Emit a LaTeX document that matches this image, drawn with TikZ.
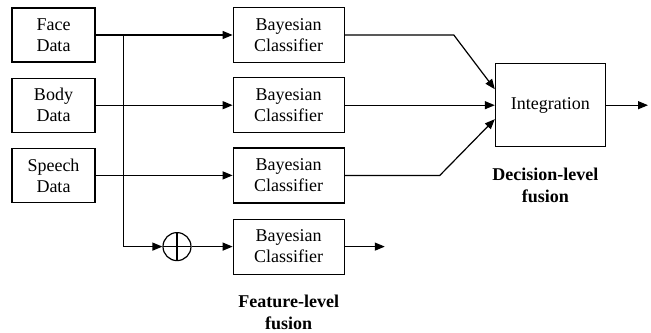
\documentclass[tikz,border=0pt]{standalone}
\usepackage{fontspec}
\setmainfont{Liberation Serif}
\usetikzlibrary{positioning}
\usetikzlibrary{arrows.meta}

\begin{document}
\begin{tikzpicture}
			[x=0.5pt,y=-0.5pt,
			 every node/.style={font=\fontsize{9}{10.5}\selectfont,align=center},
			 data/.style={rectangle,draw,semithick,minimum width=41.5pt,minimum height=27pt,inner sep=0pt},
			 classif/.style={rectangle,draw,semithick,minimum width=55.5pt,minimum height=27.5pt,inner sep=0pt},
			 integ/.style={rectangle,draw,semithick,minimum width=55pt,minimum height=41.5pt,inner sep=0pt},
			 sum/.style={circle,draw,semithick,minimum size=14pt,inner sep=0pt,
			   path picture={\draw[semithick] (path picture bounding box.north) -- (path picture bounding box.south)
			     (path picture bounding box.west) -- (path picture bounding box.east);}},
			 connect/.style={semithick,-{Triangle[length=5pt,width=4pt]}},
			 caption/.style={font=\fontsize{9}{11}\selectfont\bfseries},
			 node distance=7.5pt and 68.5pt]
			\useasboundingbox (0,0) rectangle (651,332);
			\node[data] (face) at (53.5,35) {Face\\Data};
			\node[data] (body) [below=of face] {Body\\Data};
			\node[data] (speech) [below=of body] {Speech\\Data};
			\node[classif] (bc1) [right=of face] {Bayesian\\Classifier};
			\node[classif] (bc2) [right=of body] {Bayesian\\Classifier};
			\node[classif] (bc3) [right=of speech] {Bayesian\\Classifier};
			\node[classif] (bc4) [below=of bc3] {Bayesian\\Classifier};
			\node[sum] (plus) [left=20.5pt of bc4] {};
			\node[integ] (integration) [right=75pt of bc2] {Integration};
			\node[caption] (declabel) [below=7pt of integration,xshift=-2.5pt] {Decision-level\\fusion};
			\node[caption] (featlabel) [below=6.5pt of bc4] {Feature-level\\fusion};
			\coordinate (split) at ([xshift=14pt]face.east);
			\coordinate (featout) at ([xshift=20pt]bc4.east);
			\coordinate (decout) at ([xshift=21pt]integration.east);

			% feature inputs
			\draw[connect] (face) -- (bc1);
			\draw[connect] (body) -- (bc2);
			\draw[connect] (speech) -- (bc3);
			\draw[connect] (split) |- (plus);
			\draw[connect] (plus) -- (bc4);
			\draw[connect] (bc4) -- (featout);

			% decisions
			\draw[connect] (bc1.east) -- ++(54.5pt,0) -- ([yshift=8pt]integration.west);
			\draw[connect] (bc2) -- (integration);
			\draw[connect] (bc3.east) -- ++(47.5pt,0) -- ([yshift=-7pt]integration.west);
			\draw[connect] (integration) -- (decout);
		\end{tikzpicture}
\end{document}
